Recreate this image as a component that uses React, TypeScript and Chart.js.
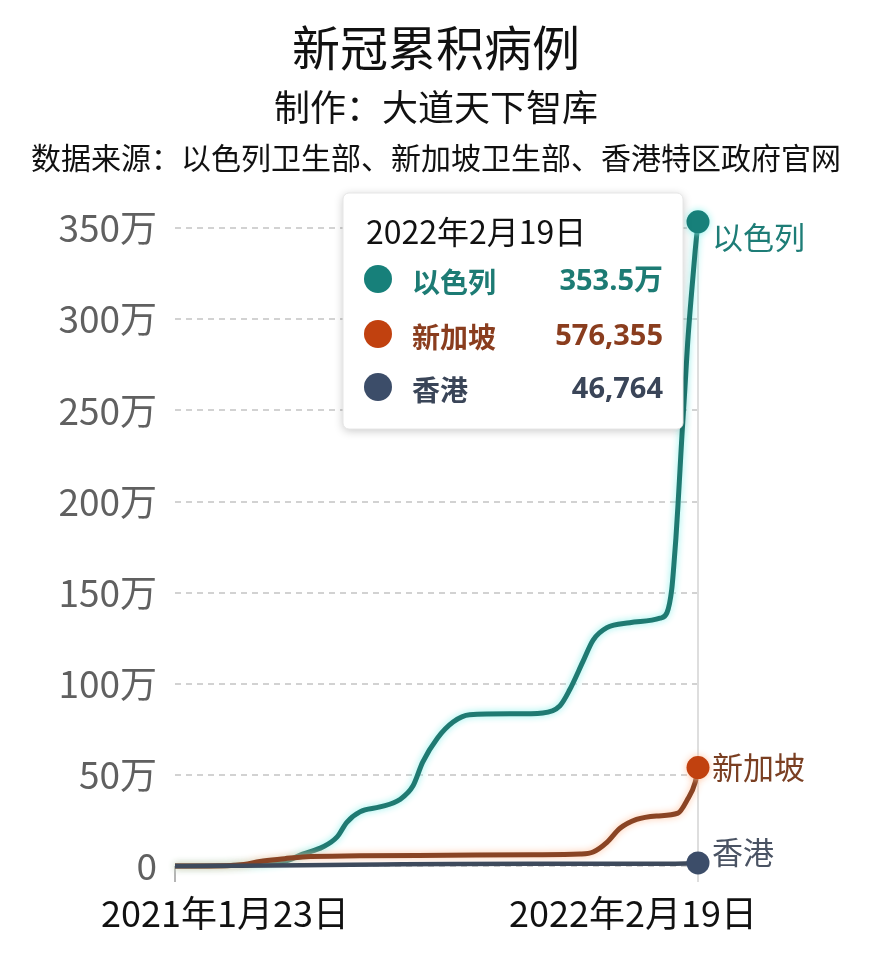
import React, { useEffect, useRef } from 'react';
import { Chart, registerables } from 'chart.js';

Chart.register(...registerables);

// ---- data (x = days since the first date on the axis) ----
const seriesNames = ['以色列', '新加坡', '香港'];
const xTickLabels = ['2021年1月23日', '2022年2月19日'];
const xRange = [0, 758];
const tooltipTitle = '2022年2月19日';
const latestCases = [3535000, 576355, 46764];

const israelDays = [0, 80, 138, 165, 185, 214, 235, 249, 268, 297, 326, 345, 359, 380, 403, 427, 490, 533, 558, 572, 591, 606, 626, 659, 703, 713, 720, 723, 726, 729, 732, 735, 739, 743, 749, 754, 758];
const israelCases = [0, 3000, 15000, 33000, 65000, 104000, 160000, 240000, 297000, 324000, 365000, 440000, 570000, 700000, 790000, 830000, 835000, 840000, 880000, 967000, 1120000, 1240000, 1308000, 1335000, 1360000, 1390000, 1520000, 1650000, 1800000, 1980000, 2180000, 2380000, 2620000, 2870000, 3160000, 3380000, 3535000];

const singaporeDays = [0, 75, 100, 123, 159, 185, 268, 394, 520, 587, 606, 626, 645, 669, 698, 729, 742, 754, 758];
const singaporeCases = [0, 1500, 8000, 25000, 40000, 50000, 56000, 59000, 62000, 66000, 77000, 130000, 207000, 256000, 275000, 290000, 360000, 460000, 540000];

const hongkongDays = [0, 60, 185, 300, 400, 600, 700, 740, 758];
const hongkongCases = [0, 1000, 3500, 8000, 11500, 12300, 12600, 14000, 17000];

const lineColors = ['#1f7a72', '#8a4424', '#3e4a5c'];
const dotColors = ['#17807a', '#c1410f', '#3c4d69'];
const glowColors = ['rgba(140,240,235,0.95)', 'rgba(255,195,160,0.95)', 'rgba(0,0,0,0)'];
const textColors = ['#1d7b74', '#8a3d1e', '#3a4558'];
const endLabelColors = ['#1e7d77', '#7a3f22', '#4a5363'];

const CJK = '"Noto Sans CJK SC", "Noto Sans", sans-serif';

function formatCases(v: number, i: number) {
  if (i === 0) return (v / 10000).toFixed(1) + '万';
  return v.toLocaleString('en-US');
}

export default function App() {
  const ref = useRef<HTMLCanvasElement>(null);

  useEffect(() => {
    const canvas = ref.current!;
    const series = [
      [israelDays, israelCases],
      [singaporeDays, singaporeCases],
      [hongkongDays, hongkongCases],
    ];

    const glowPlugin = {
      id: 'glow',
      beforeDatasetDraw(chart: any, args: any) {
        const ctx = chart.ctx;
        ctx.save();
        ctx.shadowColor = glowColors[args.index];
        ctx.shadowBlur = 7;
      },
      afterDatasetDraw(chart: any) {
        chart.ctx.restore();
      },
    };

    const crosshairPlugin = {
      id: 'crosshair',
      beforeDatasetsDraw(chart: any) {
        const { ctx, scales } = chart;
        const x = scales.x.getPixelForValue(xRange[1]);
        const top = scales.y.getPixelForValue(Math.max(...israelCases));
        ctx.save();
        ctx.strokeStyle = '#dedede';
        ctx.lineWidth = 2;
        ctx.beginPath();
        ctx.moveTo(x, top);
        ctx.lineTo(x, chart.chartArea.bottom + 16);
        ctx.stroke();
        ctx.restore();
      },
    };

    const xLabelPlugin = {
      id: 'xlabels',
      afterDraw(chart: any) {
        const { ctx, scales, chartArea } = chart;
        const offsets = [50, -65];
        ctx.save();
        ctx.font = '36px ' + CJK;
        ctx.fillStyle = '#111';
        ctx.textAlign = 'center';
        ctx.textBaseline = 'middle';
        xRange.forEach((v, i) => {
          ctx.fillText(xTickLabels[i], scales.x.getPixelForValue(v) + offsets[i], chartArea.bottom + 47);
        });
        ctx.restore();
      },
    };

    const endLabelPlugin = {
      id: 'endlabels',
      afterDatasetsDraw(chart: any) {
        const ctx = chart.ctx;
        const dy = [15, 0, -11];
        ctx.save();
        ctx.font = '31px ' + CJK;
        ctx.textAlign = 'left';
        ctx.textBaseline = 'middle';
        chart.data.datasets.forEach((ds: any, i: number) => {
          const meta = chart.getDatasetMeta(i);
          const pt = meta.data[meta.data.length - 1];
          ctx.fillStyle = endLabelColors[i];
          ctx.fillText(seriesNames[i], pt.x + 14, pt.y + dy[i]);
        });
        ctx.restore();
      },
    };

    const tooltipPlugin = {
      id: 'fixedTooltip',
      afterDraw(chart: any) {
        const { ctx, scales, chartArea } = chart;
        const right = scales.x.getPixelForValue(xRange[1]) - 15;
        const w = 340;
        const h = 236;
        const left = right - w;
        const top = chartArea.top - 17;
        ctx.save();
        ctx.shadowColor = 'rgba(0,0,0,0.22)';
        ctx.shadowBlur = 10;
        ctx.shadowOffsetY = 2;
        ctx.fillStyle = '#fff';
        ctx.beginPath();
        ctx.roundRect(left, top, w, h, 6);
        ctx.fill();
        ctx.shadowColor = 'rgba(0,0,0,0)';
        ctx.strokeStyle = '#e6e6e6';
        ctx.lineWidth = 1;
        ctx.stroke();

        ctx.fillStyle = '#111';
        ctx.font = '32px ' + CJK;
        ctx.textBaseline = 'middle';
        ctx.textAlign = 'left';
        ctx.fillText(tooltipTitle, left + 23, top + 39);

        const rowY = [89, 144, 197];
        seriesNames.forEach((name, i) => {
          const y = top + rowY[i];
          ctx.fillStyle = dotColors[i];
          ctx.beginPath();
          ctx.arc(left + 35, y - 3, 14, 0, Math.PI * 2);
          ctx.fill();
          ctx.fillStyle = textColors[i];
          ctx.font = 'bold 28px ' + CJK;
          ctx.textAlign = 'left';
          ctx.fillText(name, left + 69, y);
          ctx.font = 'bold 29px "Open Sans", ' + CJK;
          ctx.textAlign = 'right';
          ctx.fillText(formatCases(latestCases[i], i), left + 320, y);
        });
        ctx.restore();
      },
    };

    const chart = new Chart(canvas, {
      type: 'line',
      data: {
        datasets: series.map(([days, cases], i) => ({
          label: seriesNames[i],
          data: days.map((d, k) => ({ x: d, y: cases[k] })),
          borderColor: lineColors[i],
          backgroundColor: dotColors[i],
          borderWidth: i === 2 ? 4.5 : 5,
          cubicInterpolationMode: 'monotone',
          pointRadius: (c: any) => (c.dataIndex === days.length - 1 ? 11.5 : 0),
          pointBackgroundColor: dotColors[i],
          pointBorderWidth: 0,
          pointHoverRadius: 0,
          clip: false,
          order: 2 - i,
          fill: false,
        })),
      },
      options: {
        responsive: false,
        animation: false,
        devicePixelRatio: 1,
        events: [],
        layout: { padding: { left: 0, right: 174, top: 210, bottom: 84 } },
        plugins: {
          legend: { display: false },
          tooltip: { enabled: false },
          title: { display: false },
        },
        scales: {
          x: {
            type: 'linear',
            min: xRange[0],
            max: xRange[1],
            afterBuildTicks: (s: any) => {
              s.ticks = xRange.map((v) => ({ value: v }));
            },
            afterFit: (s: any) => {
              s.height = 16;
            },
            ticks: { display: false },
            grid: {
              drawOnChartArea: false,
              drawTicks: true,
              tickLength: 16,
              color: '#b5b5b5',
              lineWidth: 2,
            },
            border: { display: false },
          },
          y: {
            type: 'linear',
            min: 0,
            max: 3600000,
            afterBuildTicks: (s: any) => {
              const t = [];
              for (let v = 0; v <= 3500000; v += 500000) t.push({ value: v });
              s.ticks = t;
            },
            afterFit: (s: any) => {
              s.width = 175;
            },
            ticks: {
              padding: 18,
              color: '#606060',
              font: { size: 37, family: CJK },
              callback: (v: any) => (v === 0 ? '0' : v / 10000 + '万'),
            },
            grid: {
              drawTicks: false,
              color: '#d2d2d2',
              lineWidth: 2,
            },
            border: { display: false, dash: [6, 5] },
          },
        },
      },
      plugins: [glowPlugin, crosshairPlugin, endLabelPlugin, xLabelPlugin, tooltipPlugin],
    } as any);

    return () => chart.destroy();
  }, []);

  const head = (text: string, size: number, center: number) => (
    <div
      style={{
        position: 'absolute',
        left: 0,
        width: 872,
        top: center - size / 2,
        height: size,
        lineHeight: size + 'px',
        fontSize: size,
        fontFamily: CJK,
        color: '#111',
        textAlign: 'center',
        whiteSpace: 'nowrap',
      }}
    >
      {text}
    </div>
  );

  return (
    <div
      style={{
        position: 'absolute',
        left: 0,
        top: 0,
        width: 872,
        height: 966,
        background: '#fff',
        overflow: 'hidden',
      }}
    >
      <canvas ref={ref} width={872} height={966} style={{ position: 'absolute', left: 0, top: 0 }} />
      {head('新冠累积病例', 48, 45)}
      {head('制作：大道天下智库', 36, 105)}
      {head('数据来源：以色列卫生部、新加坡卫生部、香港特区政府官网', 30, 156)}
    </div>
  );
}
